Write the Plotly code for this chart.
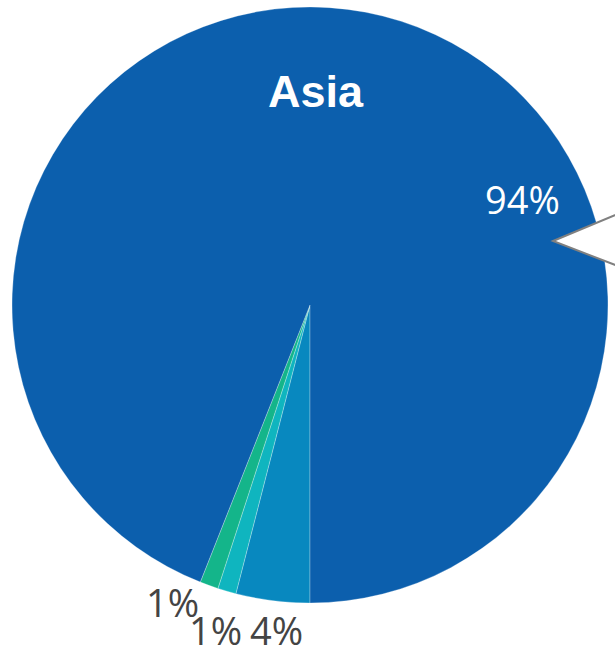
import plotly.graph_objects as go

# Share of total by region
regions = ["Europe", "Americas", "Africa", "Asia"]
shares = [4, 1, 1, 94]
colors = ["#0888bf", "#0fb5bf", "#14b58a", "#0c5fad"]

total = sum(shares)
pct = [f"{round(100 * v / total)}%" for v in shares]

W, H = 615, 650

fig = go.Figure(
    go.Pie(
        labels=regions,
        values=shares,
        sort=False,
        direction="clockwise",
        rotation=180,
        marker=dict(colors=colors, line=dict(color="rgba(255,255,255,0.35)", width=0.8)),
        textinfo="none",
        hoverinfo="skip",
        showlegend=False,
        domain=dict(x=[12 / W, 608 / W], y=[(H - 603) / H, (H - 7) / H]),
    )
)

def px(x, y):
    return x / W, 1 - y / H

annots = []
# Region name inside the large slice
ax, ay = px(316, 91)
annots.append(dict(x=ax, y=ay, text="<b>Asia</b>", font=dict(family="Liberation Sans, Arial", size=45, color="white")))
# Percentage of the large slice
ax, ay = px(522, 199)
annots.append(dict(x=ax, y=ay, text=pct[3], font=dict(family="Open Sans", size=38, color="white")))
# Outside labels of the small slices
for (x, y), t in zip([(276, 630), (215, 630), (172, 602)], pct[:3]):
    ax, ay = px(x, y)
    annots.append(dict(x=ax, y=ay, text=t, font=dict(family="Open Sans", size=38, color="#444444")))

for a in annots:
    a.update(xref="paper", yref="paper", showarrow=False, xanchor="center", yanchor="middle")

# Pointer callout on the right edge
tx, ty = px(553, 241)
ux, uy = px(680, 188)
lx, ly = px(680, 290)
fig.add_shape(
    type="path",
    xref="paper", yref="paper",
    path=f"M {ux},{uy} L {tx},{ty} L {lx},{ly} Z",
    fillcolor="white",
    line=dict(color="#808080", width=2),
)

fig.update_layout(
    width=W, height=H,
    margin=dict(l=0, r=0, t=0, b=0),
    paper_bgcolor="white",
    plot_bgcolor="white",
    annotations=annots,
)

fig.write_html("out.html")
